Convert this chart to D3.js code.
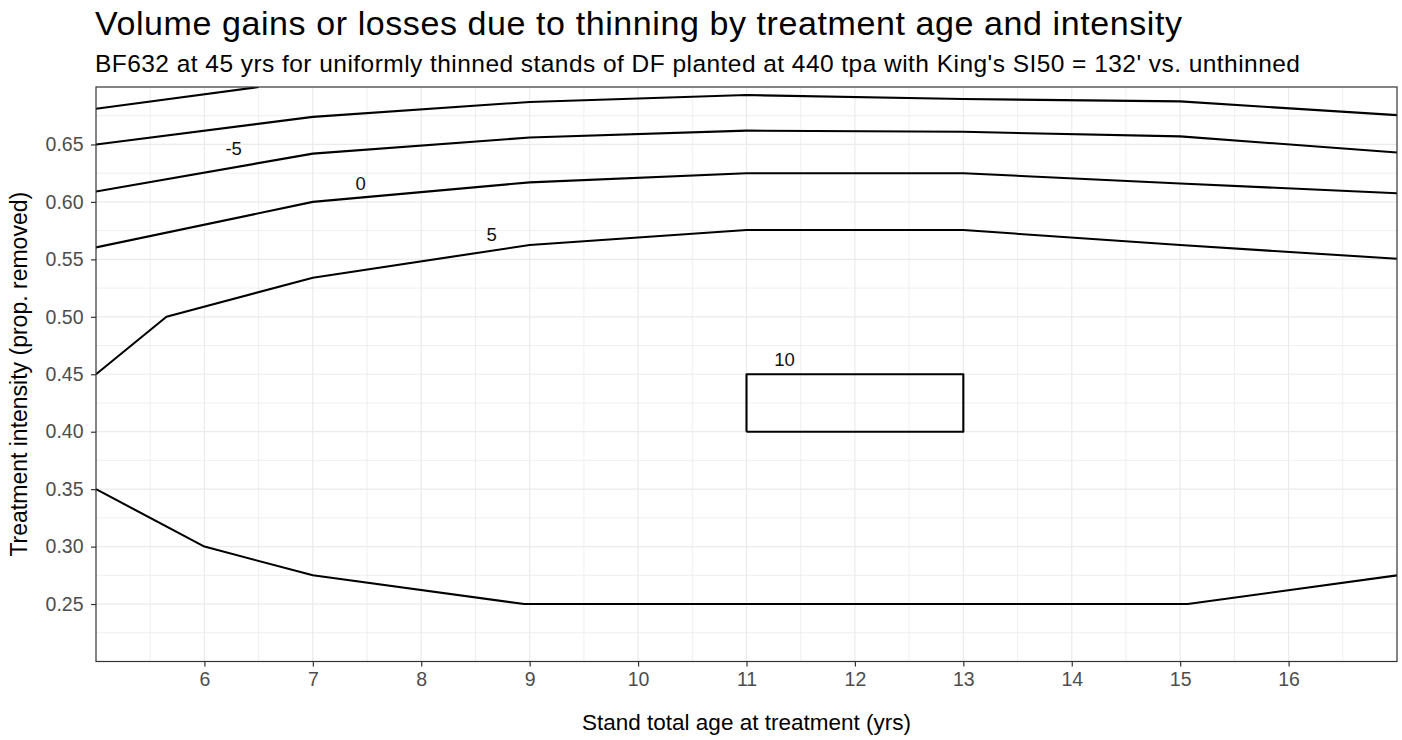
<!DOCTYPE html>
<html>
<head>
<meta charset="utf-8">
<script src="https://cdn.jsdelivr.net/npm/d3@7"></script>
<style>
  html, body { margin: 0; padding: 0; background: #fff; }
  svg { display: block; font-family: "Liberation Sans", Arial, sans-serif; }
</style>
</head>
<body>
<svg id="chart" width="1402" height="740"></svg>
<script>
// Contour lines of volume gain/loss (%) over stand age (yrs) x thinning intensity
const levelM10 = [[5, 0.681], [6.5, 0.70]];
const levelM5a = [[5, 0.65], [7, 0.674], [9, 0.687], [11, 0.693], [13, 0.6895], [15, 0.6875], [17, 0.6755]];
const levelM5 = [[5, 0.609], [7, 0.642], [9, 0.656], [11, 0.662], [13, 0.661], [15, 0.657], [17, 0.643]];
const level0 = [[5, 0.5604], [7, 0.60], [9, 0.617], [11, 0.625], [13, 0.625], [15, 0.616], [17, 0.6075]];
const level5upper = [[5, 0.45], [5.65, 0.50], [7, 0.534], [9, 0.5625], [11, 0.5755], [13, 0.5755], [15, 0.5625], [17, 0.5505]];
const level5lower = [[5, 0.35], [6, 0.30], [7, 0.275], [8.95, 0.25], [15.07, 0.25], [17, 0.275]];
const level10 = [[11, 0.40], [11, 0.45], [13, 0.45], [13, 0.40], [11, 0.40]];

const contourLines = [levelM10, levelM5a, levelM5, level0, level5upper, level5lower, level10];

// Contour labels: value and position
const labelText = ["-5", "0", "5", "10"];
const labelAge = [6.27, 7.44, 8.65, 11.35];
const labelIntensity = [0.6464, 0.616, 0.5715, 0.4632];

const xTicks = [6, 7, 8, 9, 10, 11, 12, 13, 14, 15, 16];
const yTicks = [0.25, 0.30, 0.35, 0.40, 0.45, 0.50, 0.55, 0.60, 0.65];
const xMinor = [5.5, 6.5, 7.5, 8.5, 9.5, 10.5, 11.5, 12.5, 13.5, 14.5, 15.5, 16.5];
const yMinor = [0.225, 0.275, 0.325, 0.375, 0.425, 0.475, 0.525, 0.575, 0.625, 0.675];

const titleText = "Volume gains or losses due to thinning by treatment age and intensity";
const subtitleText = "BF632 at 45 yrs for uniformly thinned stands of DF planted at 440 tpa with King's SI50 = 132' vs. unthinned";
const xTitle = "Stand total age at treatment (yrs)";
const yTitle = "Treatment intensity (prop. removed)";

const svg = d3.select("#chart");
const pLeft = 96, pRight = 1397, pTop = 87, pBottom = 661.5;

const x = d3.scaleLinear().domain([5, 17]).range([pLeft, pRight]);
const y = d3.scaleLinear().domain([0.2, 0.7]).range([pBottom, pTop]);

const panel = svg.append("g");

// minor grid
panel.selectAll("line.xminor").data(xMinor).join("line")
  .attr("class", "xminor")
  .attr("x1", d => x(d)).attr("x2", d => x(d)).attr("y1", pTop).attr("y2", pBottom)
  .attr("stroke", "#EBEBEB").attr("stroke-width", 0.8);
panel.selectAll("line.yminor").data(yMinor).join("line")
  .attr("class", "yminor")
  .attr("y1", d => y(d)).attr("y2", d => y(d)).attr("x1", pLeft).attr("x2", pRight)
  .attr("stroke", "#EBEBEB").attr("stroke-width", 0.8);
// major grid
panel.selectAll("line.xmajor").data(xTicks).join("line")
  .attr("class", "xmajor")
  .attr("x1", d => x(d)).attr("x2", d => x(d)).attr("y1", pTop).attr("y2", pBottom)
  .attr("stroke", "#EBEBEB").attr("stroke-width", 1.2);
panel.selectAll("line.ymajor").data(yTicks).join("line")
  .attr("class", "ymajor")
  .attr("y1", d => y(d)).attr("y2", d => y(d)).attr("x1", pLeft).attr("x2", pRight)
  .attr("stroke", "#EBEBEB").attr("stroke-width", 1.2);

// clip for contours
svg.append("clipPath").attr("id", "clip")
  .append("rect").attr("x", pLeft).attr("y", pTop).attr("width", pRight - pLeft).attr("height", pBottom - pTop);

const line = d3.line().x(d => x(d[0])).y(d => y(d[1]));
svg.append("g").attr("clip-path", "url(#clip)")
  .selectAll("path").data(contourLines).join("path")
  .attr("d", line)
  .attr("fill", "none").attr("stroke", "#000").attr("stroke-width", 2.1)
  .attr("stroke-linejoin", "round");

// contour labels
svg.append("g").selectAll("text").data(labelText).join("text")
  .attr("x", (d, i) => x(labelAge[i])).attr("y", (d, i) => y(labelIntensity[i]))
  .attr("text-anchor", "middle").attr("dominant-baseline", "central")
  .attr("font-size", 18.5).attr("fill", "#111")
  .text(d => d);

// panel border
svg.append("rect").attr("x", pLeft).attr("y", pTop).attr("width", pRight - pLeft).attr("height", pBottom - pTop)
  .attr("fill", "none").attr("stroke", "#333333").attr("stroke-width", 1.2);

// axes
const xAxis = d3.axisBottom(x).tickValues(xTicks).tickSize(5).tickPadding(6).tickFormat(d3.format("d"));
const yAxis = d3.axisLeft(y).tickValues(yTicks).tickSize(5).tickPadding(7.5).tickFormat(d3.format(".2f"));

const gx = svg.append("g").attr("transform", `translate(0,${pBottom})`).call(xAxis);
const gy = svg.append("g").attr("transform", `translate(${pLeft},0)`).call(yAxis);
[gx, gy].forEach(g => {
  g.select(".domain").remove();
  g.selectAll(".tick line").attr("stroke", "#333333").attr("stroke-width", 1.2);
  g.selectAll(".tick text").attr("fill", "#4D4D4D").attr("font-size", 19.5)
    .attr("font-family", "'Liberation Sans', Arial, sans-serif");
});

// titles
svg.append("text").attr("x", 95).attr("y", 35).attr("font-size", 34)
  .attr("textLength", 1087).attr("lengthAdjust", "spacing").attr("fill", "#000").text(titleText);
svg.append("text").attr("x", 95).attr("y", 72).attr("font-size", 24.5)
  .attr("textLength", 1205).attr("lengthAdjust", "spacing").attr("fill", "#000").text(subtitleText);
svg.append("text").attr("x", (pLeft + pRight) / 2).attr("y", 730).attr("text-anchor", "middle")
  .attr("font-size", 22.5).attr("fill", "#000").text(xTitle);
svg.append("text").attr("transform", `translate(27,${(pTop + pBottom) / 2}) rotate(-90)`)
  .attr("text-anchor", "middle").attr("font-size", 23).attr("fill", "#000").text(yTitle);
</script>
</body>
</html>
